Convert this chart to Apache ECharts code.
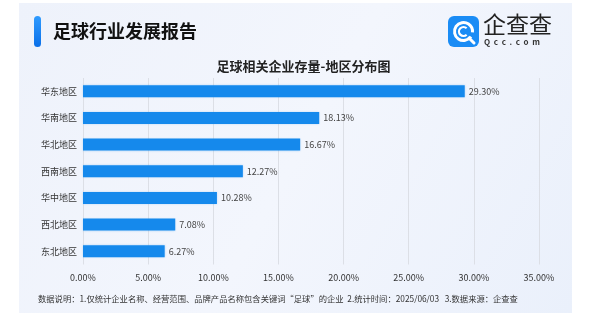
<!DOCTYPE html>
<html><head><meta charset="utf-8">
<script src="https://cdn.jsdelivr.net/npm/echarts@6/dist/echarts.min.js"></script>
<style>html,body{margin:0;padding:0;background:#fff;}#c{width:607px;height:326px;}</style>
</head><body><div id="c"></div>
<script>
var categories = ['华东地区','华南地区','华北地区','西南地区','华中地区','西北地区','东北地区'];
var values = [29.30, 18.13, 16.67, 12.27, 10.28, 7.08, 6.27];
var xTicks = [0, 5, 10, 15, 20, 25, 30, 35];
var headerTitle = '足球行业发展报告';
var chartTitle = '足球相关企业存量-地区分布图';
var footnote = '数据说明：1.仅统计企业名称、经营范围、品牌产品名称包含关键词“足球”的企业  2.统计时间：2025/06/03   3.数据来源：企查查';

var FONT = '"Noto Sans CJK SC", "Noto Sans", sans-serif';
var chart = echarts.init(document.getElementById('c'), null, {renderer:'canvas'});
chart.setOption({
  backgroundColor: '#ffffff',
  animation: false,
  textStyle: {fontFamily: FONT},
  title: {
    text: chartTitle, left: 'center', top: 55,
    textStyle: {fontSize: 13, fontWeight: 'bold', color: '#222', fontFamily: FONT}
  },
  graphic: [
    {type:'rect', z:-10, shape:{x:19,y:3,width:553,height:310},
      style:{fill:new echarts.graphic.LinearGradient(0,0,1,1,[
        {offset:0,color:'#eef2fb'},{offset:0.5,color:'#f3f6fd'},{offset:1,color:'#eaf0fb'}])}},
    {type:'rect', shape:{x:34,y:16,width:7,height:31,r:3.5},
      style:{fill:new echarts.graphic.LinearGradient(0,0,0,1,[{offset:0,color:'#2f9bff'},{offset:1,color:'#0a6fe8'}])}},
    {type:'text', left:53, top:22, style:{text:headerTitle, font:'bold 18px '+FONT, fill:'#111'}},
    {type:'rect', shape:{x:448,y:16,width:31,height:31,r:6}, style:{fill:'#1a8cf5'}},
    {type:'arc', shape:{cx:463.5,cy:31.5,r:9,startAngle:0.6,endAngle:Math.PI*2+0.1}, style:{stroke:'#fff',lineWidth:3,fill:null}},
    {type:'arc', shape:{cx:463.5,cy:31.5,r:4.5,startAngle:0.8,endAngle:Math.PI*2-0.8}, style:{stroke:'#fff',lineWidth:2.2,fill:null}},
    {type:'line', shape:{x1:469,y1:38,x2:474,y2:43}, style:{stroke:'#fff',lineWidth:3,lineCap:'round'}},
    {type:'text', left:483, top:13, style:{text:'企查查', font:'23px '+FONT, fill:'#222'}},
    {type:'text', left:484, top:38, style:{text:'Q  c  c  .  c  o  m', font:'bold 8px '+FONT, fill:'#333'}},
    {type:'text', left:38, top:295, style:{text:footnote, font:'8.3px '+FONT, fill:'#333'}}
  ],
  grid: {left:83, right:68, top:78, bottom:61.5, containLabel:false},
  xAxis: {
    type:'value', min:0, max:35, interval:5,
    axisLine:{show:false}, axisTick:{show:false},
    splitLine:{show:true, lineStyle:{color:'#dcdfe6', width:1}},
    axisLabel:{color:'#333', fontSize:9, margin:9, fontFamily:FONT,
      formatter:function(v){ return xTicks.indexOf(v) >= 0 ? v.toFixed(2)+'%' : ''; }}
  },
  yAxis: {
    type:'category', data:categories, inverse:true,
    axisLine:{show:false}, axisTick:{show:false},
    axisLabel:{color:'#333', fontSize:9, margin:6, fontFamily:FONT}
  },
  series: [{
    type:'bar', data:values, barWidth:12,
    itemStyle:{color:'#1589ec', shadowColor:'rgba(21,137,236,0.25)', shadowBlur:2},
    label:{show:true, position:'right', distance:4, color:'#444', fontSize:9, fontFamily:FONT,
      formatter:function(p){ return p.value.toFixed(2)+'%'; }}
  }]
});
</script></body></html>
